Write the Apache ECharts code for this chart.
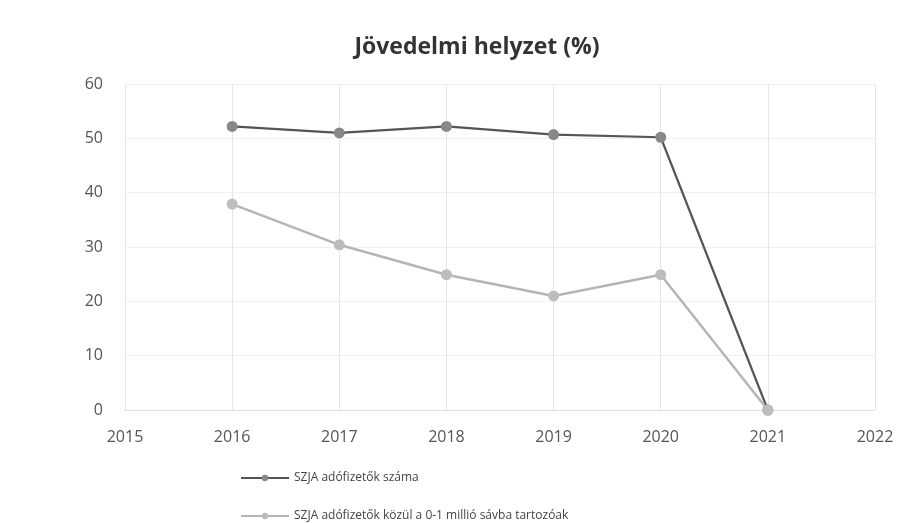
<!DOCTYPE html>
<html lang="hu">
<head>
  <meta charset="UTF-8">
  <title>Jövedelmi helyzet</title>
  <script src="https://cdn.jsdelivr.net/npm/echarts@6/dist/echarts.min.js"></script>
  <style>
    html, body { margin: 0; padding: 0; background: #fff; }
  </style>
</head>
<body>
  <div id="chart" style="width: 924px;height: 523px;"></div>

  <script type="text/javascript">
    const years = [2016, 2017, 2018, 2019, 2020, 2021];
    const adofizetok = [52.2, 51.0, 52.2, 50.7, 50.2, 0];
    const savba = [37.9, 30.4, 24.9, 21.0, 24.9, 0];
    const seriesNames = [
      'SZJA adófizetők száma',
      'SZJA adófizetők közül a 0-1 millió sávba tartozóak'
    ];

    const myChart = echarts.init(document.getElementById('chart'));

    const pairs = (vals) => years.map((y, i) => [y, vals[i]]);

    const option = {
      animation: false,
      title: {
        text: 'Jövedelmi helyzet (%)',
        left: 472,
        top: 31,
        textAlign: 'center',
        textStyle: { fontFamily: 'Open Sans', fontWeight: 'bold', fontSize: 23, color: '#333' },
      },
      grid: { left: 125, right: 49, top: 84, bottom: 113 },
      xAxis: {
        type: 'value',
        min: 2015,
        max: 2022,
        interval: 1,
        axisLine: { show: true, lineStyle: { color: '#ddd' } },
        axisTick: { show: false },
        splitLine: { show: true, lineStyle: { color: '#e6e6e6' } },
        axisLabel: {
          color: '#555', fontFamily: 'Open Sans', fontSize: 16, margin: 19,
          formatter: (v) => String(v),
        },
      },
      yAxis: {
        type: 'value',
        min: 0,
        max: 60,
        interval: 10,
        axisLine: { show: false },
        axisTick: { show: false },
        splitLine: { show: true, lineStyle: { color: '#f0f0f0' } },
        axisLabel: { color: '#555', fontFamily: 'Open Sans', fontSize: 16, margin: 22 },
      },
      legend: {
        orient: 'vertical',
        left: 240,
        top: 472,
        height: 80,
        padding: 0,
        itemGap: 26,
        itemWidth: 48,
        itemHeight: 8,
        textStyle: { color: '#444', fontFamily: 'Open Sans', fontSize: 12 },
        data: seriesNames,
      },
      series: [
        {
          name: seriesNames[0],
          type: 'line',
          data: pairs(adofizetok),
          symbol: 'circle',
          symbolSize: 11,
          lineStyle: { color: '#555', width: 2.2 },
          itemStyle: { color: '#888' },
        },
        {
          name: seriesNames[1],
          type: 'line',
          data: pairs(savba),
          symbol: 'circle',
          symbolSize: 11,
          lineStyle: { color: '#b5b5b5', width: 2.5 },
          itemStyle: { color: '#bdbdbd' },
        },
      ],
    };
    myChart.setOption(option);
  </script>
</body>
</html>
